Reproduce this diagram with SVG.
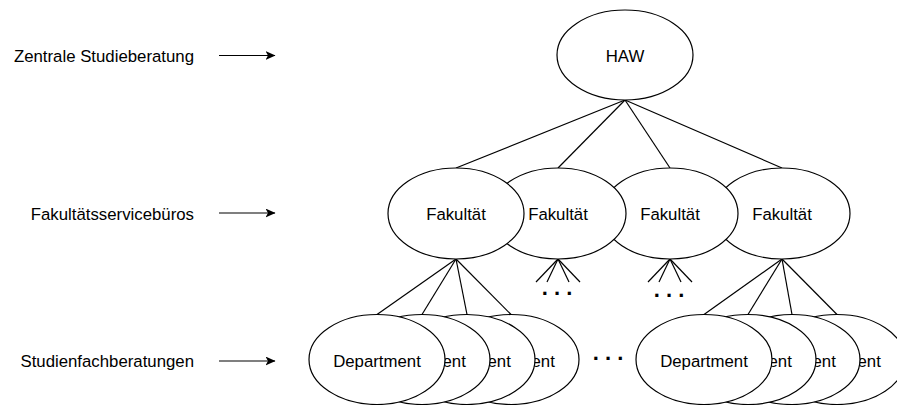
<svg xmlns="http://www.w3.org/2000/svg" width="897" height="405" viewBox="0 0 897 405">
<style>
.n ellipse{fill:#fff;stroke:#000;stroke-width:1.2}
text{font-family:"Liberation Sans",Arial,sans-serif;font-size:16.8px;fill:#000}
.c{text-anchor:middle}
.l{text-anchor:end}
.dots{font-size:22px;font-weight:bold;text-anchor:middle}
#connectors line{stroke:#000;stroke-width:1.2}
.arr{stroke:#000;stroke-width:1.2;marker-end:url(#ah)}
</style>
<defs>
<marker id="ah" markerUnits="userSpaceOnUse" markerWidth="10" markerHeight="9" refX="9.5" refY="4.5" orient="auto" viewBox="0 0 10 9">
<path d="M0,0 L10,4.5 L0,9 L2.5,4.5 z" fill="#000"/>
</marker>
</defs>
<g id="labels">
<text class="l" x="194" y="62">Zentrale Studieberatung</text>
<text class="l" x="194" y="220">Fakultätsservicebüros</text>
<text class="l" x="194" y="367">Studienfachberatungen</text>
<line class="arr" x1="219" y1="55.5" x2="275" y2="55.5"/>
<line class="arr" x1="219" y1="213" x2="275" y2="213"/>
<line class="arr" x1="219" y1="361" x2="275" y2="361"/>
</g>
<g id="connectors">
<line x1="625" y1="100" x2="456" y2="168"/>
<line x1="625" y1="100" x2="558" y2="168"/>
<line x1="625" y1="100" x2="670" y2="168"/>
<line x1="625" y1="100" x2="782" y2="168"/>
<line x1="456" y1="259" x2="377" y2="314.5"/>
<line x1="456" y1="259" x2="422" y2="314.5"/>
<line x1="456" y1="259" x2="467" y2="314.5"/>
<line x1="456" y1="259" x2="511" y2="314.5"/>
<line x1="782" y1="259" x2="704" y2="314.5"/>
<line x1="782" y1="259" x2="748" y2="314.5"/>
<line x1="782" y1="259" x2="792" y2="314.5"/>
<line x1="782" y1="259" x2="837" y2="314.5"/>
<line x1="558" y1="259" x2="536" y2="282"/>
<line x1="558" y1="259" x2="547" y2="282"/>
<line x1="558" y1="259" x2="569" y2="282"/>
<line x1="558" y1="259" x2="580" y2="282"/>
<line x1="670" y1="259" x2="648" y2="282"/>
<line x1="670" y1="259" x2="659" y2="282"/>
<line x1="670" y1="259" x2="681" y2="282"/>
<line x1="670" y1="259" x2="692" y2="282"/>
</g>
<g id="ellipsis">
<text class="dots" x="557" y="295">. . .</text>
<text class="dots" x="669" y="297">. . .</text>
<text class="dots" x="608" y="360">. . .</text>
</g>
<g id="haw" class="n"><ellipse cx="625" cy="55" rx="68" ry="45"/><text class="c" x="625" y="62">HAW</text></g>
<g id="fak4" class="n"><ellipse cx="782" cy="213.5" rx="68" ry="45.5"/><text class="c" x="782" y="220">Fakultät</text></g>
<g id="fak3" class="n"><ellipse cx="670" cy="213.5" rx="68" ry="45.5"/><text class="c" x="670" y="220">Fakultät</text></g>
<g id="fak2" class="n"><ellipse cx="558" cy="213.5" rx="68" ry="45.5"/><text class="c" x="558" y="220">Fakultät</text></g>
<g id="fak1" class="n"><ellipse cx="456" cy="213.5" rx="68" ry="45.5"/><text class="c" x="456" y="220">Fakultät</text></g>
<g id="dep1d" class="n"><ellipse cx="511" cy="359.5" rx="68" ry="45"/><text class="c" x="511" y="366.5">Department</text></g>
<g id="dep1c" class="n"><ellipse cx="467" cy="359.5" rx="68" ry="45"/><text class="c" x="467" y="366.5">Department</text></g>
<g id="dep1b" class="n"><ellipse cx="422" cy="359.5" rx="68" ry="45"/><text class="c" x="422" y="366.5">Department</text></g>
<g id="dep1a" class="n"><ellipse cx="377" cy="359.5" rx="68" ry="45"/><text class="c" x="377" y="366.5">Department</text></g>
<g id="dep2d" class="n"><ellipse cx="837" cy="359.5" rx="68" ry="45"/><text class="c" x="837" y="366.5">Department</text></g>
<g id="dep2c" class="n"><ellipse cx="792" cy="359.5" rx="68" ry="45"/><text class="c" x="792" y="366.5">Department</text></g>
<g id="dep2b" class="n"><ellipse cx="748" cy="359.5" rx="68" ry="45"/><text class="c" x="748" y="366.5">Department</text></g>
<g id="dep2a" class="n"><ellipse cx="704" cy="359.5" rx="68" ry="45"/><text class="c" x="704" y="366.5">Department</text></g>
</svg>
